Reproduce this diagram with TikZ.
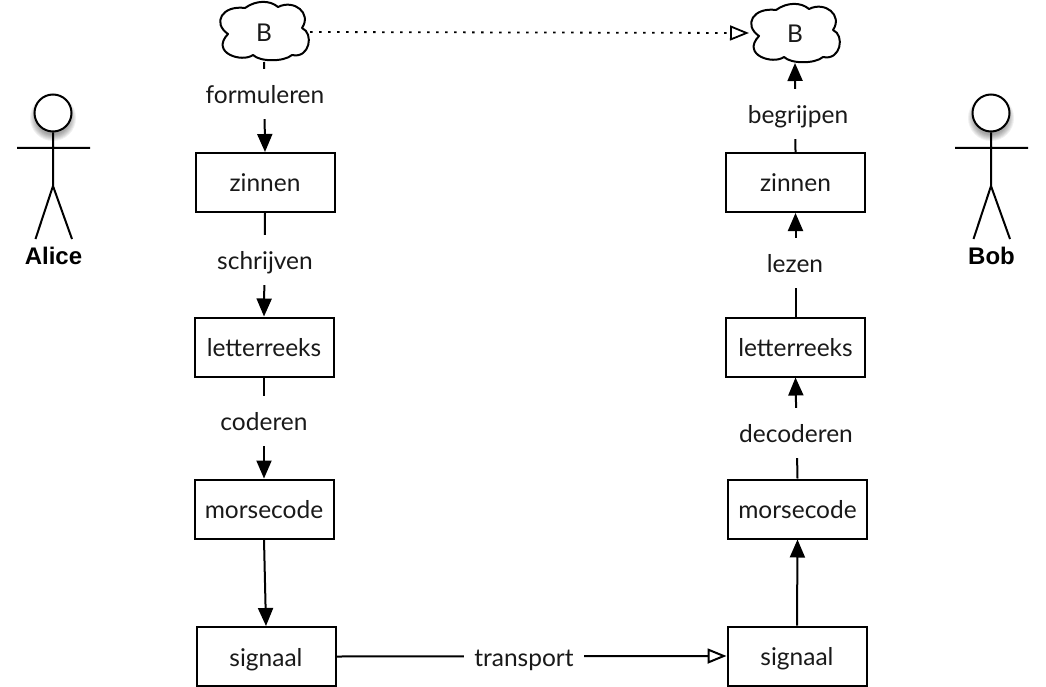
\documentclass[tikz,border=0pt]{standalone}
\usepackage{fontspec}
\setmainfont{Lato}
\newfontfamily\actorfont{Liberation Sans}
\usetikzlibrary{arrows.meta}
\tikzset{
  x=1pt,y=-1pt,
  every path/.style={line width=2pt},
  txt/.style={font=\fontsize{24.5}{28}\selectfont,text=black!90,text height=22pt,text depth=3pt},
  box/.style={draw,txt,minimum width=139pt,minimum height=59pt,inner sep=0pt,line width=2pt},
  lbl/.style={txt,fill=white,minimum height=50pt,inner ysep=0pt,inner xsep=10pt},
  cloudanchor/.style={minimum width=90pt,minimum height=58pt,inner sep=0pt,txt},
  cloudline/.style={line width=2pt,line join=round},
  solidarrow/.style={-{Triangle[length=18pt,width=15pt]},line width=2pt},
  openarrow/.style={-{Triangle[open,fill=white,length=19pt,width=15pt]},line width=2pt},
  dotline/.style={-{Triangle[open,fill=white,length=19pt,width=15pt]},line width=1.8pt,dash pattern=on 2.5pt off 6.5pt},
  head/.style={draw,fill=white,circle,minimum size=37pt,inner sep=0pt,line width=2pt},
  headshade/.style={fill=black,opacity=.06},
  actorlbl/.style={font=\actorfont\bfseries\fontsize{24}{28}\selectfont,inner sep=0pt},
  limb/.style={line width=2pt}
}
\newcommand{\cloudat}[2]{%
  \draw[cloudline,shift={(#1,#2)}] (-36,3)
    .. controls (-52,-8) and (-42,-26) .. (-19,-23)
    .. controls (-8,-31) and (6,-31) .. (14,-24)
    .. controls (30,-32) and (48,-18) .. (38,-3)
    .. controls (50,2) and (46,28) .. (28,24)
    .. controls (20,31) and (-4,31) .. (-11,24)
    .. controls (-22,32) and (-54,22) .. (-36,3) -- cycle;}
\begin{document}
\begin{tikzpicture}
\useasboundingbox (0,0) rectangle (1046,687);
% clouds
\cloudat{264}{31}
\cloudat{795}{33}
\node[cloudanchor] (cl) at (264,32) {B};
\node[cloudanchor] (cr) at (795,33) {B};
% left column
\node[box] (z1) at (265,182.5) {zinnen};
\node[box] (l1) at (264,347) {letterreeks};
\node[box] (m1) at (264,509) {morsecode};
\node[box] (s1) at (266,656.5) {signaal};
% right column
\node[box] (z2) at (795.5,182.5) {zinnen};
\node[box] (l2) at (795.5,347) {letterreeks};
\node[box] (m2) at (797.5,509) {morsecode};
\node[box] (s2) at (797,656) {signaal};
% connectors
\draw[solidarrow] (cl.south) -- (z1.north);
\draw[solidarrow] (z1.south) -- (l1.north);
\draw[solidarrow] (l1.south) -- (m1.north);
\draw[solidarrow] (m1.south) -- (s1.north);
\draw[solidarrow] (s2.north) -- (m2.south);
\draw[solidarrow] (m2.north) -- (l2.south);
\draw[solidarrow] (l2.north) -- (z2.south);
\draw[solidarrow] (z2.north) -- (cr.south);
\draw[openarrow] (s1.east) -- (s2.west);
\draw[dotline] (cl.east) -- (cr.west);
% labels
\node[lbl] (a) at (265,94.5) {formuleren};
\node[lbl] (b) at (265,260) {schrijven};
\node[lbl] (c) at (264,421) {coderen};
\node[lbl] (d) at (524,657) {transport};
\node[lbl] (e) at (798,114.5) {begrijpen};
\node[lbl] (f) at (795,263) {lezen};
\node[lbl] (g) at (796,433) {decoderen};
% actors
\foreach \r in {17,18,...,23} {
  \fill[headshade] (53,118) circle (\r pt);
  \fill[headshade] (991,118) circle (\r pt);
}
\node[head] (h1) at (53,113) {};
\node[head] (h2) at (991,113) {};
\coordinate (w1) at (17,148); \coordinate (e1) at (90,148);
\coordinate (hip1) at (53,186); \coordinate (fl1) at (35.5,239); \coordinate (fr1) at (72,239);
\coordinate (w2) at (955,148); \coordinate (e2) at (1028,148);
\coordinate (hip2) at (991,186); \coordinate (fl2) at (973.5,239); \coordinate (fr2) at (1010,239);
\draw[limb] (h1.south) -- (hip1) (w1) -- (e1) (fl1) -- (hip1) -- (fr1);
\draw[limb] (h2.south) -- (hip2) (w2) -- (e2) (fl2) -- (hip2) -- (fr2);
\node[actorlbl] (al) at (53.5,256) {Alice};
\node[actorlbl] (bo) at (991.5,256) {Bob};
\end{tikzpicture}
\end{document}
